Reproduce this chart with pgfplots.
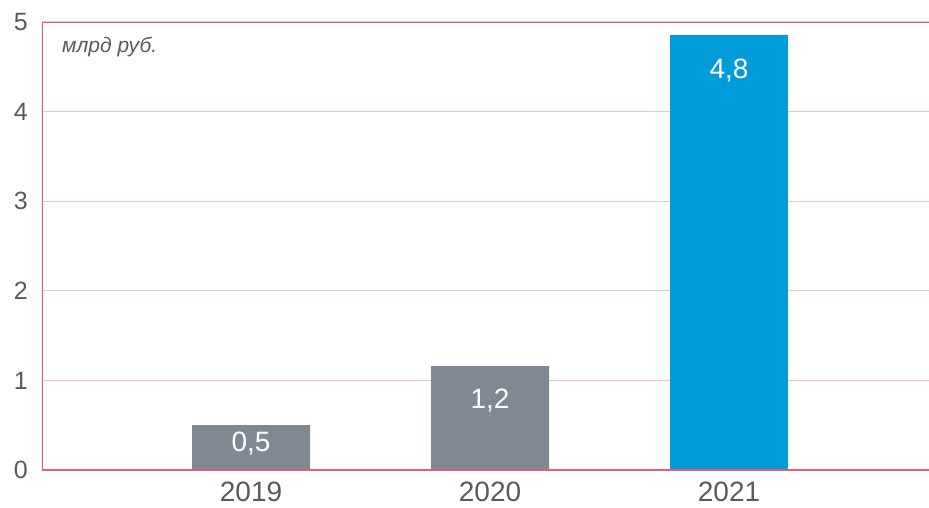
\documentclass[border=0pt]{standalone}
\usepackage{fontspec}
\setmainfont{Liberation Sans}
\usepackage{pgfplots}
\pgfplotsset{compat=1.18}
\definecolor{gridc}{RGB}{234,198,210}
\definecolor{framec}{RGB}{214,96,128}
\definecolor{barg}{RGB}{128,137,147}
\definecolor{barb}{RGB}{0,155,218}
\definecolor{tickc}{RGB}{90,90,90}
\begin{document}
\begin{tikzpicture}
\begin{axis}[
  at={(0,0)}, anchor=south west,
  scale only axis, width=910pt, height=448pt,
  xmin=-0.8745, xmax=2.933,
  ymin=0, ymax=5,
  ytick={0,1,2,3,4,5},
  xtick={0,1,2}, xticklabels={2019,2020,2021},
  axis line style={draw=none},
  ymajorgrids, grid style={gridc, line width=1.2pt},
  major tick length=0pt,
  /pgf/number format/assume math mode=true,
  yticklabel style={font=\fontsize{25}{30}\selectfont, text=tickc, anchor=east, inner sep=0pt, xshift=-14pt},
  xticklabel style={font=\fontsize{28}{32}\selectfont, text=tickc, anchor=north, inner sep=0pt, yshift=-12pt},
]
\addplot[ybar, bar width=118pt, bar shift=0pt, fill=barg, draw=none] coordinates {(0,0.50) (1,1.16)};
\addplot[ybar, bar width=118pt, bar shift=0pt, fill=barb, draw=none] coordinates {(2,4.85)};
\addplot[only marks, mark=none, point meta=explicit symbolic, nodes near coords,
  nodes near coords style={anchor=center, text=white, font=\fontsize{28}{32}\selectfont, inner sep=0pt}]
  coordinates {(0,0.30)[0,5] (1,0.78)[1,2] (2,4.46)[4,8]};
\draw[framec, line width=1.5pt] (rel axis cs:1,0) -- (rel axis cs:0,0) -- (rel axis cs:0,1) -- (rel axis cs:1,1);
\node[anchor=west, text=tickc, font=\itshape\fontsize{21}{25}\selectfont, inner sep=0pt] at (rel axis cs:0,1) [xshift=20pt, yshift=-25pt] {млрд руб.};
\end{axis}
\pgfresetboundingbox
\path (-42pt,-37pt) rectangle (887pt,470pt);
\end{tikzpicture}
\end{document}
